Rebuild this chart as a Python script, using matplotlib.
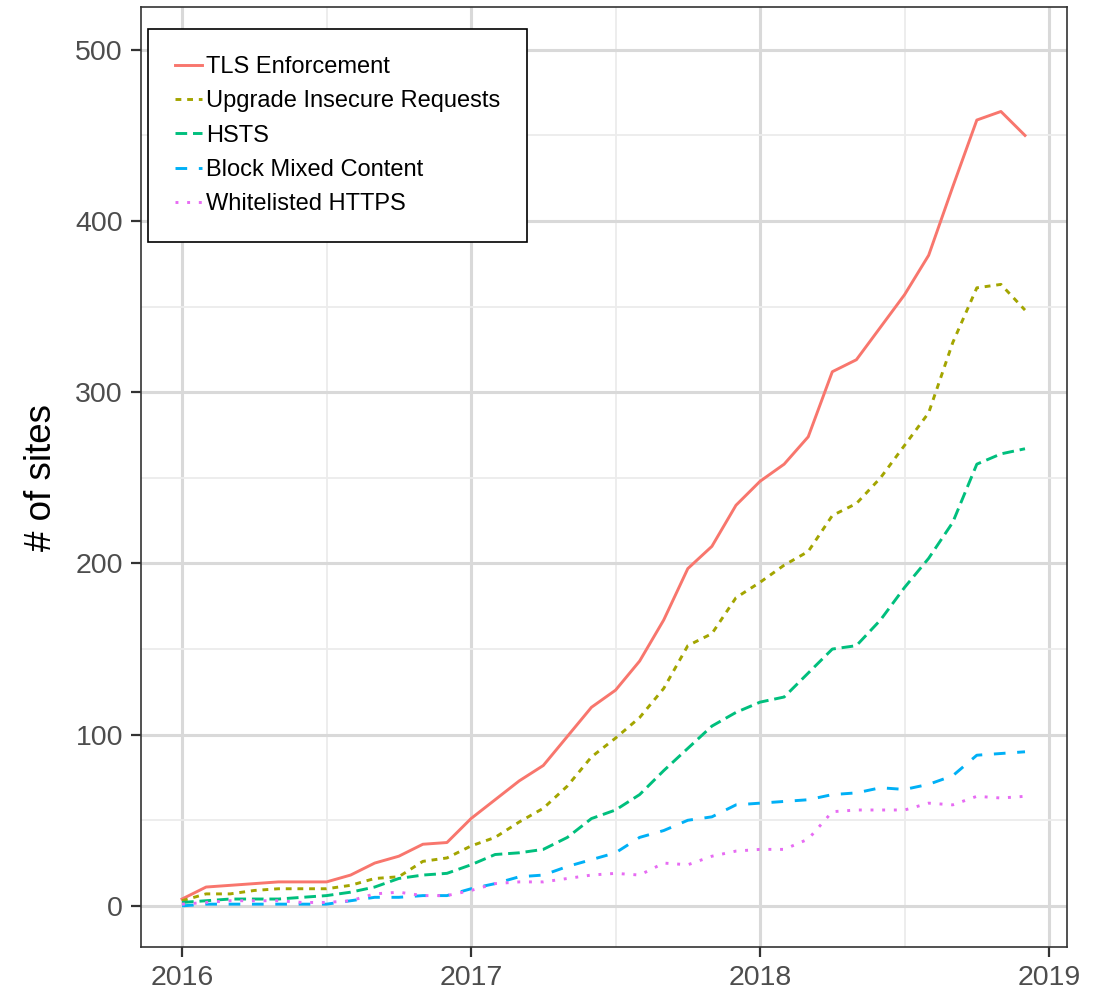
# Sites by HTTPS-related policy, by month (2016-2018)

import matplotlib
matplotlib.use("Agg")
import matplotlib.pyplot as plt
from matplotlib.ticker import MultipleLocator

plt.rcParams['font.family'] = ['Liberation Sans', 'DejaVu Sans']

# months: Jan 2016 .. Dec 2018, as decimal years
anos = [2016 + i / 12 for i in range(36)]

tls_enforcement = [4, 11, 12, 13, 14, 14, 14, 18, 25, 29, 36, 37,
                   51, 62, 73, 82, 99, 116, 126, 143, 167, 197, 210, 234,
                   248, 258, 274, 312, 319, 338, 357, 380, 420, 459, 464, 450]
upgrade_insecure = [3, 7, 7, 9, 10, 10, 10, 12, 16, 17, 26, 28,
                    35, 40, 49, 57, 70, 87, 98, 110, 127, 152, 159, 180,
                    189, 199, 207, 228, 235, 250, 269, 288, 329, 361, 363, 348]
hsts = [2, 3, 4, 4, 4, 5, 6, 8, 11, 16, 18, 19,
        24, 30, 31, 33, 40, 51, 56, 65, 79, 92, 105, 113,
        119, 122, 136, 150, 152, 167, 186, 203, 224, 258, 264, 267]
block_mixed = [0, 1, 1, 1, 1, 1, 1, 3, 5, 5, 6, 6,
               10, 13, 17, 18, 23, 27, 31, 40, 44, 50, 52, 59,
               60, 61, 62, 65, 66, 69, 68, 71, 76, 88, 89, 90]
whitelisted = [1, 2, 3, 3, 3, 2, 2, 3, 7, 8, 6, 6,
               9, 13, 14, 14, 16, 18, 19, 18, 25, 24, 29, 32,
               33, 33, 39, 55, 56, 56, 56, 60, 59, 64, 63, 64]

series = [
    ("TLS Enforcement", tls_enforcement, "#F8766D", None),
    ("Upgrade Insecure Requests", upgrade_insecure, "#A3A500", (2, 2)),
    ("HSTS", hsts, "#00BF7D", (4, 2)),
    ("Block Mixed Content", block_mixed, "#00B0F6", (4, 4)),
    ("Whitelisted HTTPS", whitelisted, "#E76BF3", (1, 3)),
]

fig = plt.figure(figsize=(11.11, 9.92), dpi=100)
ax = fig.add_axes([0.1269, 0.0454, 0.8335, 0.9475])

for nome, valores, cor, tracos in series:
    linha, = ax.plot(anos, valores, color=cor, lw=2.1, label=nome)
    if tracos is not None:
        linha.set_dashes(tracos)

ax.set_xlim(2015.858, 2019.062)
ax.set_ylim(-24, 525)

ax.xaxis.set_major_locator(MultipleLocator(1))
ax.xaxis.set_minor_locator(MultipleLocator(0.5))
ax.yaxis.set_major_locator(MultipleLocator(100))
ax.yaxis.set_minor_locator(MultipleLocator(50))
ax.xaxis.set_major_formatter(plt.FuncFormatter(lambda v, p: "%d" % round(v)))

# grid like theme_bw
ax.grid(True, which='major', color='#d9d9d9', lw=2.2)
ax.grid(True, which='minor', color='#ececec', lw=1.3)
ax.set_axisbelow(True)

ax.tick_params(which='major', length=7, width=1.6, color='#333333',
               labelsize=20.5, labelcolor='#4d4d4d', pad=6)
ax.tick_params(which='minor', length=0)

for lado in ax.spines.values():
    lado.set_color('#333333')
    lado.set_linewidth(1.2)

ax.set_ylabel("# of sites", fontsize=26.5, labelpad=12)

leg = ax.legend(loc='upper left', bbox_to_anchor=(0.0076, 0.9766),
                borderaxespad=0, fontsize=17, handlelength=1.15,
                handletextpad=0.15, labelspacing=0.52, borderpad=1.15,
                fancybox=False, framealpha=1, edgecolor='black')
leg.get_frame().set_linewidth(1.2)

fig.savefig("out.png", dpi=100)
